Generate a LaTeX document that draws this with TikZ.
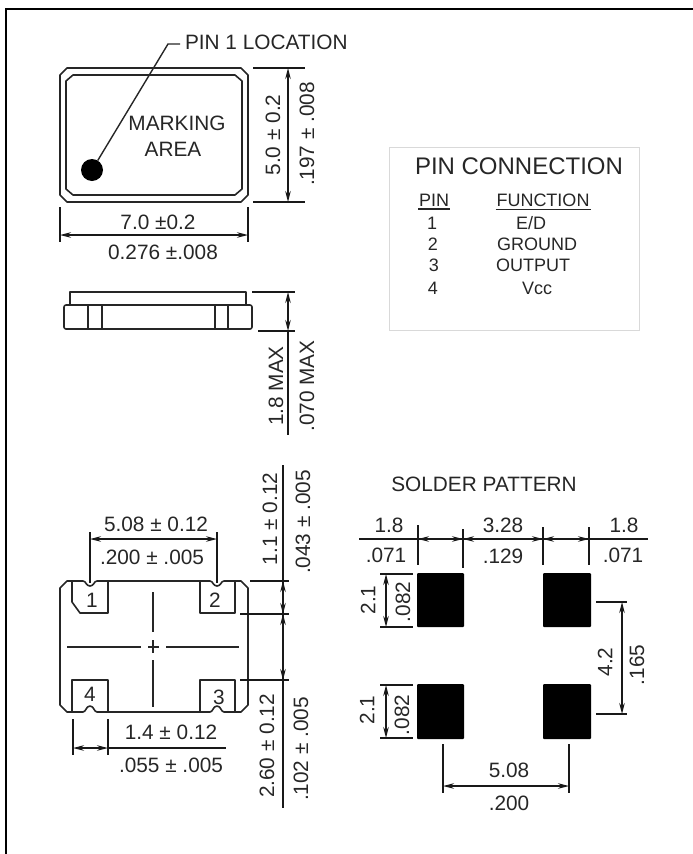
\documentclass[tikz,border=0pt]{standalone}
\usepackage{fontspec}
\setmainfont{Liberation Sans}
\usetikzlibrary{arrows.meta}
\tikzset{
	frameline/.style={line width=2pt,black},
	body/.style={line width=1.6pt,black!85,line join=round},
	thin line/.style={line width=1.4pt,black!85},
	dimline/.style={line width=1.3pt,black!90},
	dimarrow/.style={line width=1.3pt,black!90,{Stealth[length=11pt,width=5.5pt]}-{Stealth[length=11pt,width=5.5pt]}},
	lbl/.style={inner sep=0,outer sep=0,text=black!85,font=\fontsize{20.8}{22}\selectfont},
	lblup/.style={lbl,rotate=90},
	tablbl/.style={inner sep=0,outer sep=0,text=black!85,font=\fontsize{18}{20}\selectfont},
	solderpad/.style={draw=none,fill=black,rounded corners=1pt},
}
\begin{document}
\begin{tikzpicture}[x=1pt,y=-1pt]
	\useasboundingbox (0,0) rectangle (693,854);
	\draw[frameline] (6,854) -- (6,9) -- (693,9);

	\draw[body] (67,68) -- (241,68) -- (248,75) -- (248,195) -- (241,202) -- (67,202) -- (60,195) -- (60,75) -- cycle;
	\draw[body] (73,75) -- (235,75) -- (242,81) -- (242,189) -- (235,195) -- (73,195) -- (66,189) -- (66,81) -- cycle;
	\node[circle,fill=black,inner sep=0,outer sep=0,minimum size=22pt] (dot) at (92,170) {};
	\node[lbl,anchor=west] (pinlabel) at (185,42) {PIN 1 LOCATION};
	\coordinate (bend) at (168,44);
	\coordinate (labelend) at (180,44);
	\draw[thin line] (dot) -- (bend) -- (labelend);
	\node[lbl] (marking) at (177,123) {MARKING};
	\node[lbl] (area) at (173,149) {AREA};
	\draw[dimline] (253,68) -- (305,68);
	\draw[dimline] (253,202) -- (305,202);
	\draw[dimarrow] (288,68) -- (288,202);
	\node[lblup] (height) at (273,135) {5.0 ± 0.2};
	\node[lblup] (heightin) at (307,134) {.197 ± .008};
	\draw[dimline] (60,207) -- (60,242);
	\draw[dimline] (248,207) -- (248,242);
	\draw[dimarrow] (60,235) -- (248,235);
	\node[lbl] (width) at (158,222) {7.0 ±0.2};
	\node[lbl] (widthin) at (163,252) {0.276 ±.008};

	\draw[body] (70,305) -- (70,292) -- (246,292) -- (246,305);
	\draw[body,rounded corners=2pt] (64,305) rectangle (252,329);
	\draw[body] (88,305) -- (88,329);
	\draw[body] (102,305) -- (102,329);
	\draw[body] (215,305) -- (215,329);
	\draw[body] (228,305) -- (228,329);
	\draw[dimline] (252,292) -- (295,292);
	\draw[dimline] (258,331) -- (295,331);
	\draw[dimarrow] (288,292) -- (288,331);
	\draw[dimline] (288,331) -- (288,435);
	\node[lblup] (maxmm) at (276,386) {1.8 MAX};
	\node[lblup] (maxin) at (307,386) {.070 MAX};

	\draw[body] (67,581) -- (83,581) .. controls (86,581) and (86,586) .. (90,586) .. controls (94,586) and (94,581) .. (97,581) -- (210,581) .. controls (213,581) and (213,586) .. (217,586) .. controls (221,586) and (221,581) .. (224,581) -- (241,581) -- (248,588) -- (248,705) -- (241,712) -- (224,712) .. controls (221,712) and (221,706) .. (217,706) .. controls (213,706) and (213,712) .. (210,712) -- (97,712) .. controls (94,712) and (94,706) .. (90,706) .. controls (86,706) and (86,712) .. (83,712) -- (67,712) -- (60,705) -- (60,588) -- cycle;
	\draw[body] (72,581) -- (72,602) -- (80,613) -- (108,613) -- (108,581);
	\draw[body] (200,581) -- (200,613) -- (235,613) -- (235,581);
	\draw[body] (72,712) -- (72,680) -- (108,680) -- (108,712);
	\draw[body] (200,712) -- (200,680) -- (235,680) -- (235,712);
	\node[lbl] (pad1) at (92,600) {1};
	\node[lbl] (pad2) at (215,600) {2};
	\node[lbl] (pad3) at (219,697) {3};
	\node[lbl] (pad4) at (90,694) {4};
	\draw[thin line] (67,647) -- (141,647);
	\draw[thin line] (166,647) -- (239,647);
	\draw[thin line] (148,647) -- (159,647);
	\draw[thin line] (153,640) -- (153,653);
	\draw[thin line] (153,592) -- (153,632);
	\draw[thin line] (153,660) -- (153,707);
	\draw[dimline] (90,532) -- (90,583);
	\draw[dimline] (217,532) -- (217,583);
	\draw[dimarrow] (90,539) -- (217,539);
	\node[lbl] (padpitch) at (156,524) {5.08 ± 0.12};
	\node[lbl] (padpitchin) at (152,557) {.200 ± .005};
	\draw[dimline] (73,719) -- (73,755);
	\draw[dimline] (108,719) -- (108,755);
	\draw[dimarrow] (73,748) -- (108,748);
	\draw[dimline] (108,748) -- (226,748);
	\node[lbl] (padw) at (171,732) {1.4 ± 0.12};
	\node[lbl] (padwin) at (171,765) {.055 ± .005};
	\draw[dimline] (283,465) -- (283,808);
	\draw[dimline] (250,581) -- (289,581);
	\draw[dimline] (240,614) -- (289,614);
	\draw[dimline] (240,680) -- (289,680);
	\draw[dimarrow] (283,581) -- (283,614);
	\draw[dimarrow] (283,614) -- (283,680);
	\node[lblup] (padh) at (270,519) {1.1 ± 0.12};
	\node[lblup] (padhin) at (303,522) {.043 ± .005};
	\node[lblup] (gap) at (267,746) {2.60 ± 0.12};
	\node[lblup] (gapin) at (301,749) {.102 ± .005};

	\node[lbl] (soldertitle) at (484,484) {SOLDER PATTERN};
	\fill[solderpad] (417,573) rectangle (464,627);
	\fill[solderpad] (543,573) rectangle (591,627);
	\fill[solderpad] (417,684) rectangle (464,739);
	\fill[solderpad] (543,684) rectangle (591,739);
	\draw[dimline] (359,539) -- (648,539);
	\draw[dimline] (418,525) -- (418,565);
	\draw[dimline] (463,529) -- (463,568);
	\draw[dimline] (543,527) -- (543,565);
	\draw[dimline] (589,527) -- (589,565);
	\draw[dimarrow] (418,539) -- (463,539);
	\draw[dimarrow] (463,539) -- (543,539);
	\draw[dimarrow] (543,539) -- (589,539);
	\node[lbl] (sa) at (389,525) {1.8};
	\node[lbl] (sain) at (386,555) {.071};
	\node[lbl] (sb) at (503,525) {3.28};
	\node[lbl] (sbin) at (503,556) {.129};
	\node[lbl] (sc) at (624,525) {1.8};
	\node[lbl] (scin) at (623,555) {.071};
	\draw[dimline] (380,574) -- (413,574);
	\draw[dimline] (380,627) -- (413,627);
	\draw[dimarrow] (386,574) -- (386,627);
	\node[lblup] (sd) at (368,600) {2.1};
	\node[lblup] (sdin) at (403,602) {.082};
	\draw[dimline] (380,685) -- (413,685);
	\draw[dimline] (380,738) -- (413,738);
	\draw[dimarrow] (386,685) -- (386,738);
	\node[lblup] (se) at (367,710) {2.1};
	\node[lblup] (sein) at (402,715) {.082};
	\draw[dimline] (596,602) -- (627,602);
	\draw[dimline] (596,714) -- (627,714);
	\draw[dimarrow] (622,602) -- (622,714);
	\node[lblup] (sf) at (605,662) {4.2};
	\node[lblup] (sfin) at (637,665) {.165};
	\draw[dimline] (443,744) -- (443,793);
	\draw[dimline] (569,744) -- (569,793);
	\draw[dimarrow] (443,786) -- (569,786);
	\node[lbl] (sg) at (509,770) {5.08};
	\node[lbl] (sgin) at (509,803) {.200};

	\draw[line width=1pt,black!15] (389,147) rectangle (639,330);
	\node[inner sep=0,outer sep=0,text=black!85,font=\fontsize{24}{26}\selectfont] (pintitle) at (519,166) {PIN CONNECTION};
	\node[tablbl] (pinhead) at (434,200) {PIN};
	\node[tablbl] (funchead) at (543,200) {FUNCTION};
	\draw[thin line] ([shift={(-1,3)}]pinhead.south west) -- ([shift={(1,3)}]pinhead.south east);
	\draw[thin line] ([shift={(-1,3)}]funchead.south west) -- ([shift={(1,3)}]funchead.south east);
	\node[tablbl] (row1) at (432,223) {1};
	\node[tablbl] (func1) at (531,223) {E/D};
	\node[tablbl] (row2) at (433,244) {2};
	\node[tablbl] (func2) at (537,244) {GROUND};
	\node[tablbl] (row3) at (434,265) {3};
	\node[tablbl] (func3) at (533,265) {OUTPUT};
	\node[tablbl] (row4) at (433,288) {4};
	\node[tablbl] (func4) at (537,288) {Vcc};
\end{tikzpicture}
\end{document}
